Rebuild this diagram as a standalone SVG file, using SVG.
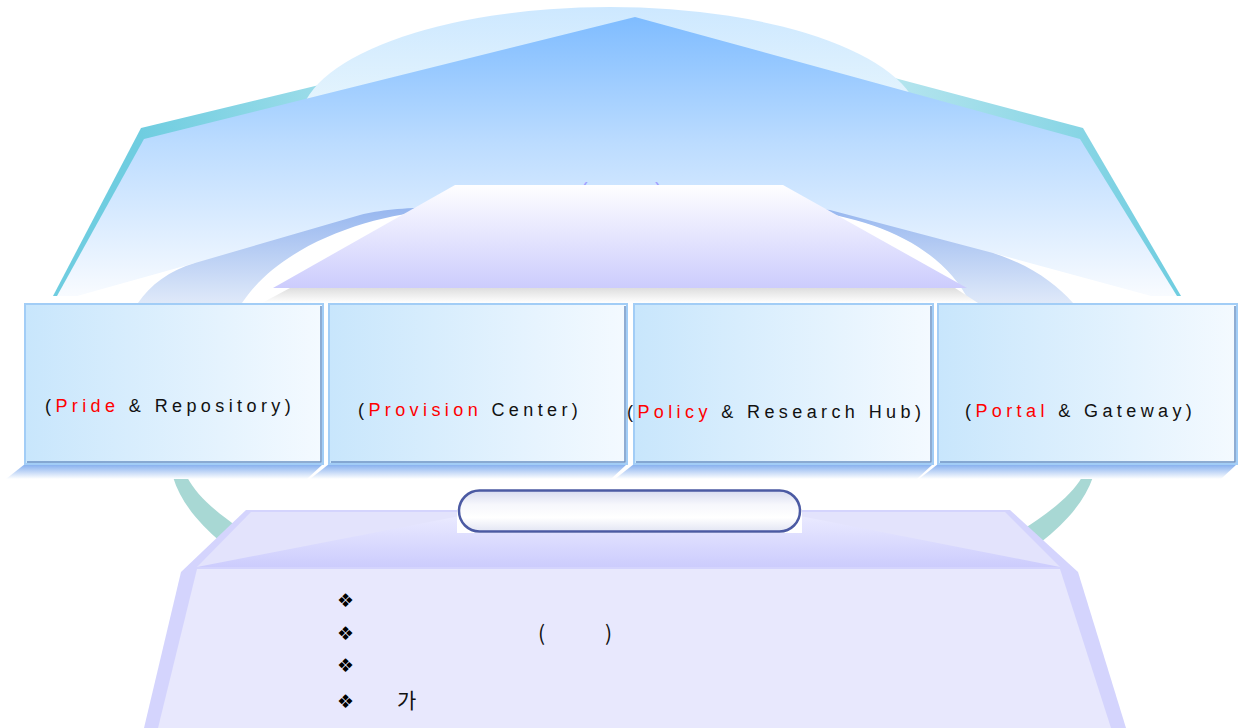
<svg xmlns="http://www.w3.org/2000/svg" width="1240" height="728" viewBox="0 0 1240 728">
<defs>
<linearGradient id="gTeal" x1="140" y1="0" x2="1180" y2="0" gradientUnits="userSpaceOnUse">
<stop offset="0" stop-color="#6fcde0"/><stop offset="0.28" stop-color="#b6e5ee"/><stop offset="0.72" stop-color="#b6e5ee"/><stop offset="1" stop-color="#6fcde0"/>
</linearGradient>
<linearGradient id="gDome" x1="0" y1="7" x2="0" y2="110" gradientUnits="userSpaceOnUse">
<stop offset="0" stop-color="#cde8ff"/><stop offset="1" stop-color="#e6f5fd"/>
</linearGradient>
<linearGradient id="gPent" x1="0" y1="17" x2="0" y2="300" gradientUnits="userSpaceOnUse">
<stop offset="0" stop-color="#7fbcff"/><stop offset="0.45" stop-color="#bcdcff"/><stop offset="1" stop-color="#fafcff"/>
</linearGradient>
<linearGradient id="gBand" x1="0" y1="207" x2="0" y2="303" gradientUnits="userSpaceOnUse">
<stop offset="0" stop-color="#96b6ef"/><stop offset="1" stop-color="#dfe9f9"/>
</linearGradient>
<linearGradient id="gTrap" x1="0" y1="185" x2="0" y2="288" gradientUnits="userSpaceOnUse">
<stop offset="0" stop-color="#fefeff"/><stop offset="1" stop-color="#ccccfd"/>
</linearGradient>
<linearGradient id="gTrapSh" x1="0" y1="288" x2="0" y2="303" gradientUnits="userSpaceOnUse">
<stop offset="0" stop-color="#dedede"/><stop offset="1" stop-color="#ffffff"/>
</linearGradient>
<linearGradient id="gBox" x1="0" y1="0" x2="1" y2="0">
<stop offset="0" stop-color="#c8e6fc"/><stop offset="1" stop-color="#f4faff"/>
</linearGradient>
<linearGradient id="gBoxSh" x1="0" y1="464" x2="0" y2="479" gradientUnits="userSpaceOnUse">
<stop offset="0" stop-color="#80acee"/><stop offset="1" stop-color="#ffffff"/>
</linearGradient>
<linearGradient id="gTop" x1="0" y1="512" x2="0" y2="567" gradientUnits="userSpaceOnUse">
<stop offset="0" stop-color="#ececff"/><stop offset="1" stop-color="#ccccfd"/>
</linearGradient>
<linearGradient id="gPill" x1="0" y1="489" x2="0" y2="533" gradientUnits="userSpaceOnUse">
<stop offset="0" stop-color="#d4d8ee"/><stop offset="0.35" stop-color="#f6f7fc"/><stop offset="0.65" stop-color="#ffffff"/><stop offset="1" stop-color="#dfe2f2"/>
</linearGradient>
</defs>
<style>
.box{fill:url(#gBox);stroke:#a2cdf6;stroke-width:2}
.edge{fill:none;stroke:#6e92c4;stroke-width:1.5}
.lbl{font-family:"Liberation Sans",Arial,sans-serif;font-size:18px;letter-spacing:4.4px;fill:#111111}
.red{fill:#ff0000}
.sh{fill:url(#gBoxSh)}
.bul{font-family:"DejaVu Sans",sans-serif;font-size:19px;fill:#000000}
.kr{font-family:"Noto Sans CJK KR","Liberation Sans",sans-serif;font-size:21px;fill:#111111}
</style>
<rect width="1240" height="728" fill="#ffffff"/>

<g id="roof">
<polygon points="635,9 1083,128 1181,296 53,296 141,128" fill="url(#gTeal)"/>
<ellipse cx="610" cy="123" rx="310" ry="116" fill="url(#gDome)"/>
<polygon points="635,17 1080,139 1177,296 57,296 144,139" fill="url(#gPent)"/>
</g>

<g id="ring">
<polygon points="195,263 20,312 140,312" fill="#ffffff"/>
<polygon points="993,253 1210,312 1073,312" fill="#ffffff"/>
<path d="M242,303 C280,245 360,214 440,209 L800,209 C880,218 945,250 970,303 Z" fill="#ffffff"/>
<path d="M138,303 C150,285 170,270 195,263 L360,215 C380,210 400,208 440,207 L440,210 C370,214 280,245 242,303 Z" fill="url(#gBand)"/>
<path d="M800,207 L830,210 L993,253 C1030,265 1055,283 1073,303 L970,303 C945,250 880,218 800,210 Z" fill="url(#gBand)"/>
<path d="M173,477 C180,500 196,521 222,543 L242,530 C216,512 197,496 187,477 Z" fill="#a8d8d4"/>
<path d="M1093,477 C1085,500 1068,521 1040,543 L1022,530 C1050,512 1072,495 1082,477 Z" fill="#a8d8d4"/>
</g>

<g id="center">
<text x="581" y="197" font-family="Liberation Sans,sans-serif" font-size="20" fill="#a0a0ff">(</text>
<text x="655" y="197" font-family="Liberation Sans,sans-serif" font-size="20" fill="#a0a0ff">)</text>
<polygon points="290,288 955,288 978,303 262,303" fill="url(#gTrapSh)"/>
<polygon points="455,185 783,185 967,288 273,288" fill="url(#gTrap)"/>
</g>

<g id="base">
<polygon points="246,510 1010,510 1078,572 1126,728 144,728 181,572" fill="#d4d4fd"/>
<polygon points="251,512 1005,512 1060,567 197,567" fill="#e3e3fc"/>
<polygon points="460,516 800,516 1060,567 197,567" fill="url(#gTop)"/>
<polygon points="197,569 1060,569 1111,728 158,728" fill="#e8e8fd"/>
<rect x="457" y="489" width="345" height="44" fill="#ffffff"/>
<rect x="459" y="490.5" width="341" height="41" rx="20.5" fill="url(#gPill)" stroke="#4b5aa3" stroke-width="2.5"/>
<text class="bul" x="337" y="607">&#x2756;&#xFE0E;</text>
<text class="bul" x="337" y="640">&#x2756;&#xFE0E;</text>
<text class="bul" x="337" y="672">&#x2756;&#xFE0E;</text>
<text class="bul" x="337" y="708">&#x2756;&#xFE0E;</text>
<text class="kr" x="538" y="641">(</text>
<text class="kr" x="605" y="641">)</text>
<text class="kr" x="397" y="708">가</text>
</g>

<g id="box1">
<polygon class="sh" points="25,464 323,464 307,479 6,479"/>
<rect class="box" x="25" y="304" width="298" height="160"/>
<polyline class="edge" points="321,306 321,462 27,462"/>
<text class="lbl" x="45" y="412">(<tspan class="red">Pride</tspan> &amp; Repository)</text>
</g>
<g id="box2">
<polygon class="sh" points="329,464 627,464 611,479 310,479"/>
<rect class="box" x="329" y="304" width="298" height="160"/>
<polyline class="edge" points="625,306 625,462 331,462"/>
<text class="lbl" x="358" y="416">(<tspan class="red">Provision</tspan> Center)</text>
</g>
<g id="box3">
<polygon class="sh" points="634,464 933,464 917,479 615,479"/>
<rect class="box" x="634" y="304" width="299" height="160"/>
<polyline class="edge" points="931,306 931,462 636,462"/>
<text class="lbl" x="627" y="418">(<tspan class="red">Policy</tspan> &amp; Research Hub)</text>
</g>
<g id="box4">
<polygon class="sh" points="938,464 1237,464 1221,479 919,479"/>
<rect class="box" x="938" y="304" width="299" height="160"/>
<polyline class="edge" points="1235,306 1235,462 940,462"/>
<text class="lbl" x="965" y="417">(<tspan class="red">Portal</tspan> &amp; Gateway)</text>
</g>
</svg>
